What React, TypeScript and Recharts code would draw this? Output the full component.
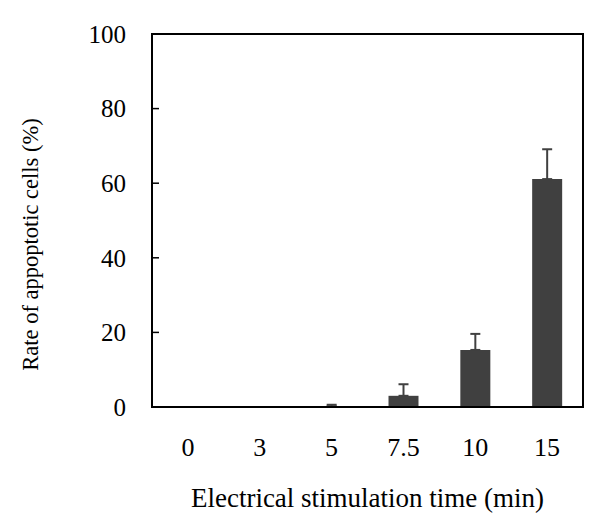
import React from 'react';
import { BarChart, Bar, XAxis, YAxis, ErrorBar, ReferenceArea } from 'recharts';

const categories = ['0', '3', '5', '7.5', '10', '15'];
const rates = [0.2, 0.2, 0.2, 3, 15.3, 61.1];
const errorsUp = [0, 0, 0.4, 3.1, 4.3, 8];
const yTicks = [0, 20, 40, 60, 80, 100];
const boundaryTicks = [1, 2, 3, 4, 5];

const data = categories.map((c, i) => ({
  time: c,
  rate: rates[i],
  err: errorsUp[i] > 0 ? [0, errorsUp[i]] : undefined,
}));

const FONT = '"Liberation Serif", "Times New Roman", serif';

const YTitle = (p: any) => {
  const vb = p.viewBox;
  const cx = vb.x + 10;
  const cy = vb.y + vb.height / 2 + 24;
  return (
    <text
      x={cx}
      y={cy}
      transform={`rotate(-90 ${cx} ${cy})`}
      textAnchor="middle"
      dominantBaseline="central"
      fontFamily={FONT}
      fontSize={22.5}
      fill="#000"
    >
      Rate of appoptotic cells (%)
    </text>
  );
};

export default function App() {
  return (
    <div style={{ position: 'absolute', left: 0, top: 0, background: '#fff' }}>
      <BarChart
        width={600}
        height={522}
        data={data}
        margin={{ top: 34, right: 17, bottom: 15, left: 20 }}
      >
        <XAxis
          xAxisId={0}
          type="number"
          domain={[0, 6]}
          ticks={boundaryTicks}
          tick={false}
          tickSize={-6}
          tickLine={{ stroke: '#555', strokeWidth: 1.2 }}
          axisLine={false}
          height={0}
        />
        <XAxis
          xAxisId="cat"
          dataKey="time"
          tickLine={false}
          tickSize={0}
          tickMargin={31}
          height={100}
          axisLine={{ stroke: '#000', strokeWidth: 2 }}
          tick={{ fontSize: 26, fill: '#000', fontFamily: FONT }}
          interval={0}
          label={{
            value: 'Electrical stimulation time (min)',
            position: 'insideBottom',
            offset: 0,
            fontSize: 27,
            fill: '#000',
            fontFamily: FONT,
          }}
        />
        <YAxis
          domain={[0, 100]}
          ticks={yTicks}
          width={132}
          tickSize={-7}
          tickMargin={33}
          axisLine={{ stroke: '#000', strokeWidth: 2 }}
          tickLine={{ stroke: '#000', strokeWidth: 1.5 }}
          tick={{ fontSize: 25, fill: '#000', fontFamily: FONT }}
          label={{ content: YTitle }}
        />
        <ReferenceArea
          y1={0}
          y2={100}
          fill="none"
          fillOpacity={0}
          stroke="#000"
          strokeWidth={2}
        />
        <Bar
          xAxisId="cat"
          dataKey="rate"
          fill="#404040"
          barSize={30}
          isAnimationActive={false}
        >
          <ErrorBar dataKey="err" width={5} stroke="#404040" strokeWidth={2} />
        </Bar>
      </BarChart>
    </div>
  );
}
